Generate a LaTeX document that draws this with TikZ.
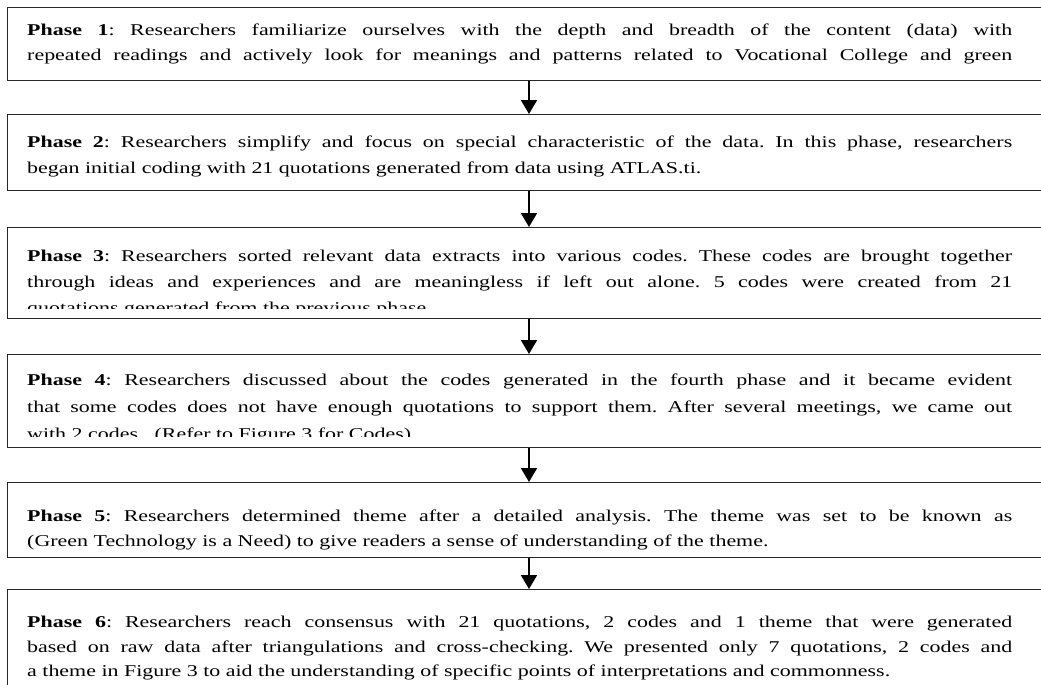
\documentclass[tikz,border=0pt]{standalone}
\usepackage{fontspec}
\setmainfont{Liberation Serif}[FakeStretch=1.33]
\usetikzlibrary{arrows.meta}

% one text line inside a phase box: full lines are set justified, last lines flush left
\newcommand{\fullline}[1]{\makebox[985pt][s]{#1}}
\newcommand{\lastline}[1]{\makebox[985pt][l]{#1}}

\tikzset{
  phasebox/.style={draw=black!85, line width=1.1pt, rectangle, inner sep=0pt,
                   minimum width=1040pt, anchor=north west},
  textline/.style={anchor=base west, inner sep=0pt,
                   font=\fontsize{16.5}{24}\selectfont\frenchspacing},
  flowarrow/.style={line width=2pt, -{Triangle[width=16pt,length=14pt]}},
}

\begin{document}
\begin{tikzpicture}[x=1pt,y=-1pt]
\useasboundingbox (0,0) rectangle (1041,685);

% the six phase frames
\node[phasebox, minimum height=73pt] (b1) at (7,7)   {};
\node[phasebox, minimum height=76pt] (b2) at (7,114) {};
\node[phasebox, minimum height=91pt] (b3) at (7,227) {};
\node[phasebox, minimum height=93pt] (b4) at (7,354) {};
\node[phasebox, minimum height=75pt] (b5) at (7,482) {};
\node[phasebox, minimum height=110pt] (b6) at (7,589) {};

% Phase 1
\node[textline] (t11) at (27,36) {\fullline{\textbf{Phase 1}: Researchers familiarize ourselves with the depth and breadth of the content (data) with}};
\node[textline] (t12) at (27,61) {\fullline{repeated readings and actively look for meanings and patterns related to Vocational College and green}};

% Phase 2
\node[textline] (t21) at (27,147) {\fullline{\textbf{Phase 2}: Researchers simplify and focus on special characteristic of the data. In this phase, researchers}};
\node[textline] (t22) at (27,173) {\lastline{began initial coding with 21 quotations generated from data using ATLAS.ti.}};

% Phase 3 (third line cut off by the frame)
\node[textline] (t31) at (27,261) {\fullline{\textbf{Phase 3}: Researchers sorted relevant data extracts into various codes. These codes are brought together}};
\node[textline] (t32) at (27,287) {\fullline{through ideas and experiences and are meaningless if left out alone. 5 codes were created from 21}};
\begin{scope}
  \clip (7,227) rectangle (1045,308);
  \node[textline] (t33) at (27,313) {\lastline{quotations generated from the previous phase.}};
\end{scope}

% Phase 4 (third line cut off by the frame)
\node[textline] (t41) at (27,385) {\fullline{\textbf{Phase 4}: Researchers discussed about the codes generated in the fourth phase and it became evident}};
\node[textline] (t42) at (27,412) {\fullline{that some codes does not have enough quotations to support them. After several meetings, we came out}};
\begin{scope}
  \clip (7,354) rectangle (1045,436);
  \node[textline] (t43) at (27,439) {\lastline{with 2 codes.\ \ (Refer to Figure 3 for Codes)}};
\end{scope}

% Phase 5
\node[textline] (t51) at (27,521) {\fullline{\textbf{Phase 5}: Researchers determined theme after a detailed analysis. The theme was set to be known as}};
\node[textline] (t52) at (27,546) {\lastline{(Green Technology is a Need) to give readers a sense of understanding of the theme.}};

% Phase 6
\node[textline] (t61) at (27,627) {\fullline{\textbf{Phase 6}: Researchers reach consensus with 21 quotations, 2 codes and 1 theme that were generated}};
\node[textline] (t62) at (27,652) {\fullline{based on raw data after triangulations and cross-checking. We presented only 7 quotations, 2 codes and}};
\node[textline] (t63) at (27,676) {\lastline{a theme in Figure 3 to aid the understanding of specific points of interpretations and commonness.}};

% arrows between consecutive phases
\coordinate (ax) at (529,0);
\draw[flowarrow] (b1.south -| ax) -- (b2.north -| ax);
\draw[flowarrow] (b2.south -| ax) -- (b3.north -| ax);
\draw[flowarrow] (b3.south -| ax) -- (b4.north -| ax);
\draw[flowarrow] (b4.south -| ax) -- (b5.north -| ax);
\draw[flowarrow] (b5.south -| ax) -- (b6.north -| ax);
\end{tikzpicture}
\end{document}
